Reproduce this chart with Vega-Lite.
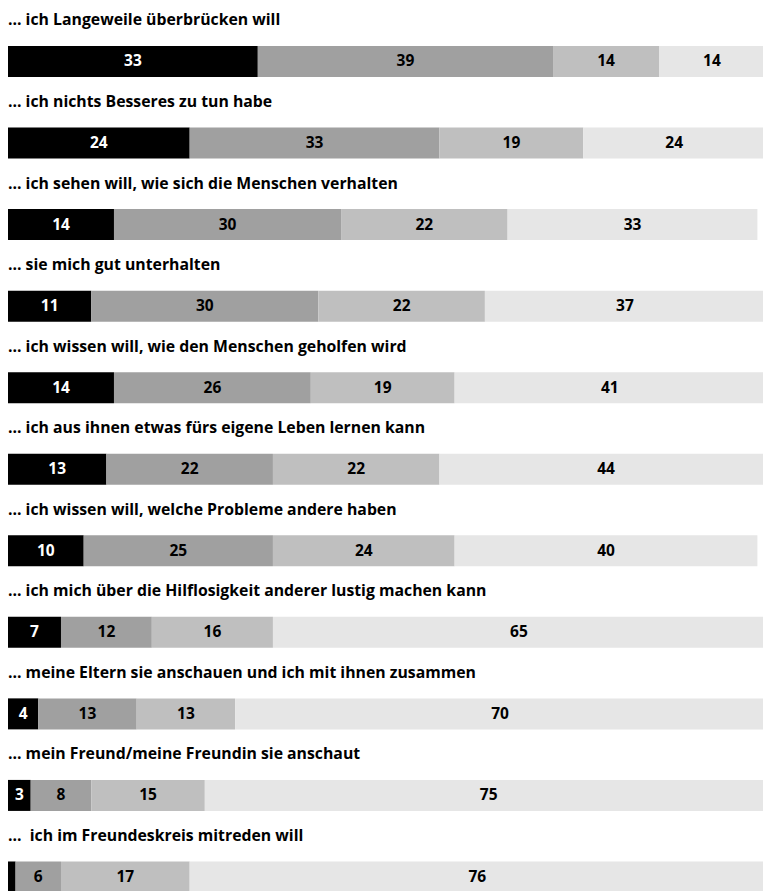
{
  "$schema": "https://vega.github.io/schema/vega-lite/v6.json",
  "width": 755,
  "height": 891,
  "autosize": {"type": "none"},
  "padding": {"left": 8, "top": 0, "right": 0, "bottom": 0},
  "background": "white",
  "config": {"view": {"stroke": null}, "font": "Open Sans"},
  "datasets": {
    "bars": [
      {"q": 1, "cat": 1, "value": 33}, {"q": 1, "cat": 2, "value": 39}, {"q": 1, "cat": 3, "value": 14}, {"q": 1, "cat": 4, "value": 14},
      {"q": 2, "cat": 1, "value": 24}, {"q": 2, "cat": 2, "value": 33}, {"q": 2, "cat": 3, "value": 19}, {"q": 2, "cat": 4, "value": 24},
      {"q": 3, "cat": 1, "value": 14}, {"q": 3, "cat": 2, "value": 30}, {"q": 3, "cat": 3, "value": 22}, {"q": 3, "cat": 4, "value": 33},
      {"q": 4, "cat": 1, "value": 11}, {"q": 4, "cat": 2, "value": 30}, {"q": 4, "cat": 3, "value": 22}, {"q": 4, "cat": 4, "value": 37},
      {"q": 5, "cat": 1, "value": 14}, {"q": 5, "cat": 2, "value": 26}, {"q": 5, "cat": 3, "value": 19}, {"q": 5, "cat": 4, "value": 41},
      {"q": 6, "cat": 1, "value": 13}, {"q": 6, "cat": 2, "value": 22}, {"q": 6, "cat": 3, "value": 22}, {"q": 6, "cat": 4, "value": 44},
      {"q": 7, "cat": 1, "value": 10}, {"q": 7, "cat": 2, "value": 25}, {"q": 7, "cat": 3, "value": 24}, {"q": 7, "cat": 4, "value": 40},
      {"q": 8, "cat": 1, "value": 7}, {"q": 8, "cat": 2, "value": 12}, {"q": 8, "cat": 3, "value": 16}, {"q": 8, "cat": 4, "value": 65},
      {"q": 9, "cat": 1, "value": 4}, {"q": 9, "cat": 2, "value": 13}, {"q": 9, "cat": 3, "value": 13}, {"q": 9, "cat": 4, "value": 70},
      {"q": 10, "cat": 1, "value": 3}, {"q": 10, "cat": 2, "value": 8}, {"q": 10, "cat": 3, "value": 15}, {"q": 10, "cat": 4, "value": 75},
      {"q": 11, "cat": 1, "value": 1}, {"q": 11, "cat": 2, "value": 6}, {"q": 11, "cat": 3, "value": 17}, {"q": 11, "cat": 4, "value": 76}
    ],
    "titles": [
      {"q": 1, "label": "... ich Langeweile überbrücken will"},
      {"q": 2, "label": "... ich nichts Besseres zu tun habe"},
      {"q": 3, "label": "... ich sehen will, wie sich die Menschen verhalten"},
      {"q": 4, "label": "... sie mich gut unterhalten"},
      {"q": 5, "label": "... ich wissen will, wie den Menschen geholfen wird"},
      {"q": 6, "label": "... ich aus ihnen etwas fürs eigene Leben lernen kann"},
      {"q": 7, "label": "... ich wissen will, welche Probleme andere haben"},
      {"q": 8, "label": "... ich mich über die Hilflosigkeit anderer lustig machen kann"},
      {"q": 9, "label": "... meine Eltern sie anschauen und ich mit ihnen zusammen"},
      {"q": 10, "label": "... mein Freund/meine Freundin sie anschaut"},
      {"q": 11, "label": "...\u00a0 ich im Freundeskreis mitreden will"}
    ]
  },
  "layer": [
    {
      "data": {"name": "bars"},
      "mark": {"type": "bar", "height": 31, "clip": true},
      "encoding": {
        "y": {"field": "q", "type": "ordinal", "axis": null, "scale": {"range": [20.7, 917.75], "paddingInner": 0, "paddingOuter": 0}},
        "x": {"field": "value", "type": "quantitative", "stack": "zero", "axis": null, "scale": {"domain": [0, 99.74], "nice": false, "zero": true}},
        "order": {"field": "cat", "type": "quantitative"},
        "color": {"field": "cat", "type": "nominal", "legend": null, "scale": {"domain": [1, 2, 3, 4], "range": ["#000000", "#a0a0a0", "#bfbfbf", "#e6e6e6"]}}
      }
    },
    {
      "data": {"name": "bars"},
      "transform": [
        {"stack": "value", "groupby": ["q"], "sort": [{"field": "cat", "order": "ascending"}], "as": ["x0", "x1"]},
        {"filter": "datum.value > 1"},
        {"fold": ["x0", "x1"], "as": ["edge", "pos"]}
      ],
      "mark": {"type": "text", "fontSize": 15.5, "fontWeight": "bold", "baseline": "middle", "align": "center"},
      "encoding": {
        "y": {"field": "q", "type": "ordinal", "axis": null},
        "x": {"aggregate": "mean", "field": "pos", "type": "quantitative"},
        "detail": {"field": "cat", "type": "nominal"},
        "text": {"field": "value", "type": "quantitative"},
        "color": {"condition": {"test": "datum.cat == 1", "value": "white"}, "value": "black"}
      }
    },
    {
      "data": {"name": "titles"},
      "mark": {"type": "text", "fontSize": 15.8, "fontWeight": "bold", "baseline": "middle", "align": "left", "dy": -41, "color": "black"},
      "encoding": {
        "y": {"field": "q", "type": "ordinal", "axis": null},
        "x": {"datum": 0, "type": "quantitative"},
        "text": {"field": "label"}
      }
    }
  ]
}
